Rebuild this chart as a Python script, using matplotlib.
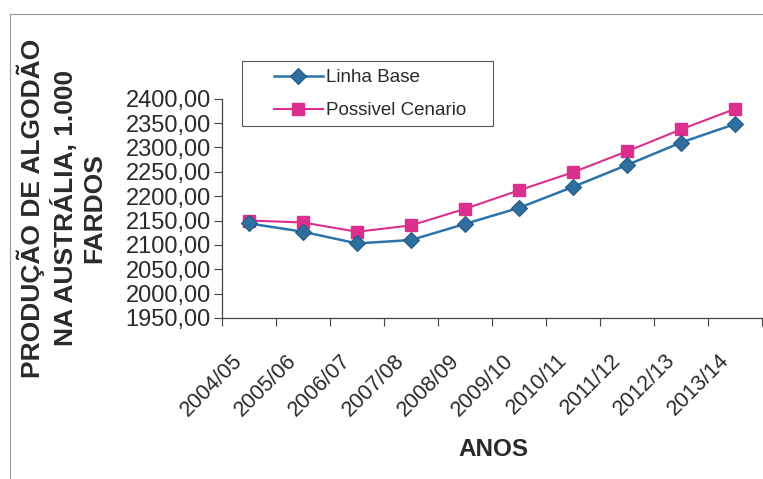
import matplotlib
matplotlib.use("Agg")
import matplotlib.pyplot as plt
from matplotlib.lines import Line2D
from matplotlib.patches import Rectangle
from matplotlib.ticker import FuncFormatter
from matplotlib.transforms import ScaledTranslation

plt.rcParams['font.family'] = ['Liberation Sans', 'DejaVu Sans']

anos = ["2004/05", "2005/06", "2006/07", "2007/08", "2008/09",
        "2009/10", "2010/11", "2011/12", "2012/13", "2013/14"]
linha_base = [2144, 2127, 2103, 2110, 2143, 2176, 2219, 2264, 2310, 2348]
possivel_cenario = [2150, 2146, 2127, 2140, 2174, 2212, 2249, 2292, 2337, 2379]
y_ticks = [1950, 2000, 2050, 2100, 2150, 2200, 2250, 2300, 2350, 2400]

txt = "#2a2a2a"
blue = "#2b74ab"
pink = "#dc2f8d"
W, H = 763, 479

fig = plt.figure(figsize=(7.63, 4.79), dpi=100)
ax = fig.add_axes([222/W, 1-318/H, 540/W, (318-98.7)/H])

x = list(range(len(anos)))
ax.plot(x, linha_base, color=blue, lw=1.8, marker='D', ms=8,
        mfc="#2f6f9f", mec="#1f5a85", mew=0.8, label="Linha Base", zorder=3)
ax.plot(x, possivel_cenario, color=pink, lw=1.5, marker='s', ms=8,
        mfc=pink, mec=pink, label="Possivel Cenario", zorder=2)

ax.set_xlim(-0.5, len(anos) - 0.5)
ax.set_ylim(1950, 2400)
ax.set_yticks(y_ticks)
ax.yaxis.set_major_formatter(FuncFormatter(lambda v, p: f"{v:.2f}".replace('.', ',')))
ax.tick_params(axis='y', labelsize=17, colors="#444444", labelcolor=txt,
               length=6, width=0.8, pad=2)

ax.set_xticks(x)
ax.set_xticklabels(anos, rotation=45, ha='right', rotation_mode='anchor',
                   fontsize=15.5, color=txt)
ax.tick_params(axis='x', which='major', length=0, pad=10)
off = ScaledTranslation(-12/72, -13/72, fig.dpi_scale_trans)
for lab in ax.get_xticklabels():
    lab.set_transform(lab.get_transform() + off)
ax.set_xticks([i - 0.5 for i in range(len(anos) + 1)], minor=True)
ax.tick_params(axis='x', which='minor', length=6, width=0.8, colors="#444444")

for s in ['top', 'right']:
    ax.spines[s].set_visible(False)
for s in ['left', 'bottom']:
    ax.spines[s].set_color("#444444")
    ax.spines[s].set_linewidth(0.9)

fig.text(493/W, 1-449/H, "ANOS", ha='center', va='center',
         fontsize=17.5, fontweight='bold', color=txt)

fig.text(0.081, 1-208/H, "PRODUÇÃO DE ALGODÃO\nNA AUSTRÁLIA, 1.000\nFARDOS",
         rotation=90, ha='center', va='center', multialignment='center',
         fontsize=19, fontweight='bold', color=txt, linespacing=1.25)

# legend box (Excel style) and entries
fig.add_artist(Rectangle((242/W, 1-126/H), (493-242)/W, (126-61)/H,
                         transform=fig.transFigure, fill=False,
                         edgecolor="#555555", lw=0.8))
leg = fig.legend(handles=ax.get_lines(), loc='upper left',
                 bbox_to_anchor=(274/W, 1-69/H), fontsize=13.5, frameon=False,
                 handlelength=2.6, borderpad=0, labelspacing=0.85,
                 handletextpad=0.15, borderaxespad=0)
for t in leg.get_texts():
    t.set_color(txt)

# outer frame of the chart area
fig.add_artist(Line2D([10/W, 10/W], [0, 1-14/H], color="#999999", lw=0.8))
fig.add_artist(Line2D([10/W, 1], [1-14/H, 1-14/H], color="#999999", lw=0.8))

fig.savefig("out.png", dpi=100, facecolor='white')
